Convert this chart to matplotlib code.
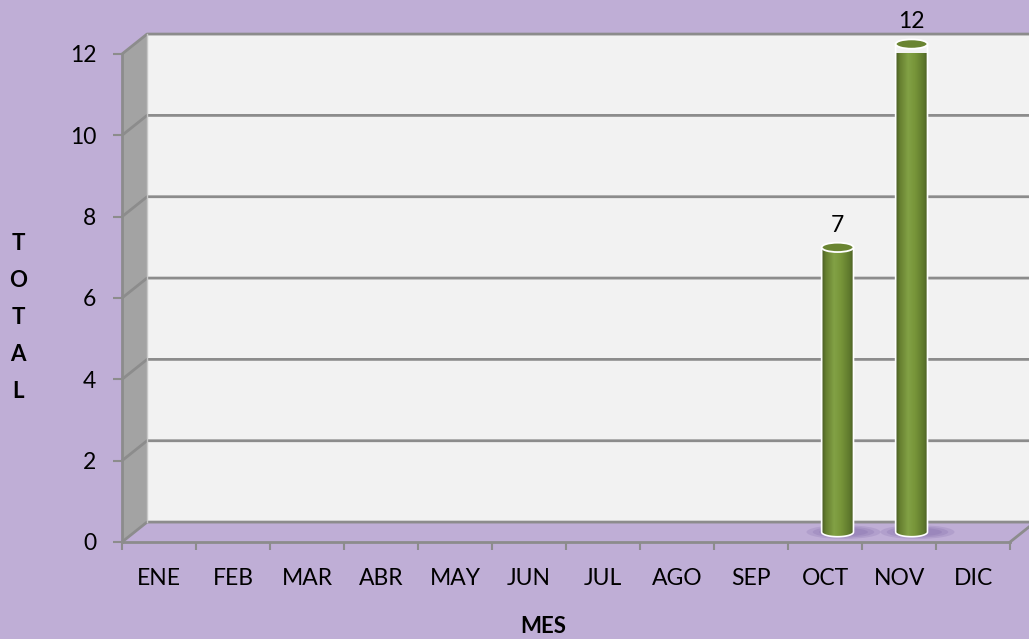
import numpy as np
import matplotlib.pyplot as plt
from matplotlib.colors import LinearSegmentedColormap
from matplotlib.patches import Polygon, Ellipse

meses = ['ENE', 'FEB', 'MAR', 'ABR', 'MAY', 'JUN', 'JUL', 'AGO', 'SEP', 'OCT', 'NOV', 'DIC']
totales = [0, 0, 0, 0, 0, 0, 0, 0, 0, 7, 12, 0]
y_ticks = [0, 2, 4, 6, 8, 10, 12]
y_max = 12

BG = '#bfaed6'
WALL = '#f2f2f2'
SIDE = '#a3a3a3'
GRID = '#8c8c8c'
DX, DY = 0.338, 0.49   # profundidad 3D (unidades de datos)
W, EH = 0.43, 0.23     # ancho del cilindro y alto de la elipse

plt.rcParams['font.family'] = ['Lato', 'DejaVu Sans']

cyl_cmap = LinearSegmentedColormap.from_list('cyl', [
    (0.0, '#4b5e25'), (0.12, '#667f30'), (0.38, '#82a145'),
    (0.6, '#779539'), (0.88, '#5d772c'), (1.0, '#4a5c24')])

fig = plt.figure(figsize=(10.29, 6.39), dpi=100, facecolor=BG)
ax = fig.add_axes([0.1186, 0.1518, 0.863, 0.7637])
ax.set_facecolor('none')
n = len(meses)

# paredes
ax.add_patch(Polygon([(DX, DY), (n + DX, DY), (n + DX, y_max + DY), (DX, y_max + DY)],
                     closed=True, fc=WALL, ec='none', clip_on=False, zorder=0))
ax.add_patch(Polygon([(0, 0), (DX, DY), (DX, y_max + DY), (0, y_max)],
                     closed=True, fc=SIDE, ec='none', clip_on=False, zorder=0))

# lineas de la cuadricula
for v in y_ticks:
    ax.plot([0, DX, n + DX], [v, v + DY, v + DY], color=GRID, lw=2, clip_on=False, zorder=1,
            solid_capstyle='butt')
ax.plot([DX, DX], [DY, y_max + DY], color='#c8c8c8', lw=1, clip_on=False, zorder=1)
ax.plot([n, n + DX], [0, DY], color=GRID, lw=2, clip_on=False, zorder=1)

# cilindros
theta = np.linspace(np.pi, 2 * np.pi, 40)
grad = np.linspace(0, 1, 200).reshape(1, -1)
for i, v in enumerate(totales):
    if v <= 0:
        continue
    cx = i + 0.5 + DX / 2
    base = DY / 2
    top = v + DY / 2
    # sombra
    for k, a in [(1.0, 0.25), (0.8, 0.3), (0.6, 0.35)]:
        ax.add_patch(Ellipse((cx + 0.08, base), 0.85 * k + 0.15, 0.34 * k, fc='#8a74b0',
                             ec='none', alpha=a, zorder=2, clip_on=False))
    arc_x = cx + W / 2 * np.cos(theta)
    arc_y = base + EH / 2 * np.sin(theta)
    verts = [(cx - W / 2, top)] + list(zip(arc_x, arc_y)) + [(cx + W / 2, top)]
    body = Polygon(verts, closed=True, fc='none', ec='white', lw=1.2, zorder=4, clip_on=False)
    ax.add_patch(body)
    im = ax.imshow(grad, cmap=cyl_cmap, aspect='auto', zorder=3,
                   extent=(cx - W / 2, cx + W / 2, base - EH, top))
    im.set_clip_path(body)
    im.set_clip_box(None)
    ax.add_patch(Ellipse((cx, top), W, EH, fc='#6a8532', ec='white', lw=1.3,
                         zorder=5, clip_on=False))
    ax.annotate(str(v), (cx, top + EH / 2), xytext=(0, 5), textcoords='offset points',
                ha='center', va='bottom', fontsize=16.5, color='black', annotation_clip=False)

ax.set_xlim(0, n)
ax.set_ylim(0, y_max)

# ejes
for s in ['top', 'right']:
    ax.spines[s].set_visible(False)
for s in ['left', 'bottom']:
    ax.spines[s].set_color(GRID)
    ax.spines[s].set_linewidth(2)
    ax.spines[s].set_zorder(1.5)

ax.set_yticks(y_ticks)
ax.tick_params(axis='y', length=6.5, width=1.5, color=GRID, pad=12, labelsize=16.5)
ax.set_xticks(range(n + 1), labels=[])
ax.set_xticks(np.arange(n) + 0.5, labels=meses, minor=True)
ax.tick_params(axis='x', which='major', length=6, width=1.5, color=GRID)
ax.tick_params(axis='x', which='minor', length=0, pad=19, labelsize=16.5)

ax.set_xlabel('MES', fontweight='bold', fontsize=16)
ax.xaxis.set_label_coords(0.474, -0.152)
ax.set_ylabel('T\nO\nT\nA\nL', rotation=0, fontweight='bold', fontsize=16,
              linespacing=1.95, va='center', ha='center')
ax.yaxis.set_label_coords(-0.117, 0.46)

fig.savefig('out.png', dpi=100, facecolor=BG)
